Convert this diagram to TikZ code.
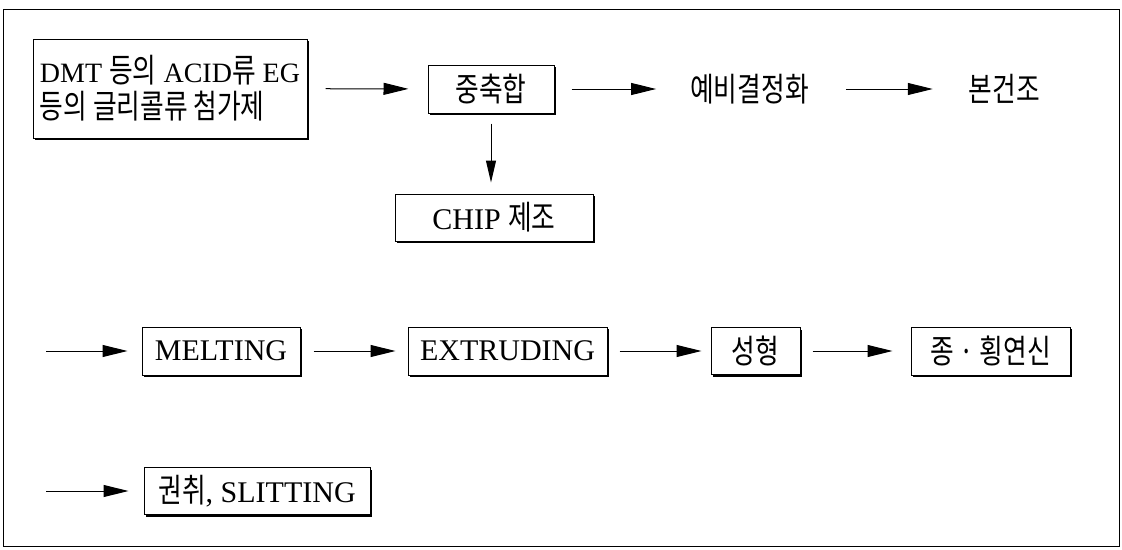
\documentclass[tikz,border=0pt]{standalone}
\usepackage{fontspec}
\setmainfont{Liberation Serif}
\newfontfamily\krfam[FakeStretch=0.78]{Noto Sans CJK KR}
\newcommand\kor[1]{{\fontsize{33}{36}\selectfont\krfam #1}}
\usetikzlibrary{arrows.meta,shadows}
\tikzset{
  procbox/.style={draw, line width=1pt, fill=white, inner sep=0pt,
    drop shadow={shadow xshift=2pt, shadow yshift=-2pt, fill=black, opacity=1}},
  plain/.style={inner sep=0pt},
  flow/.style={line width=1pt, -{Triangle[length=25pt,width=12pt]}},
  downflow/.style={line width=1pt, -{Triangle[length=22pt,width=10pt]}},
}
\begin{document}
\begin{tikzpicture}[x=1pt,y=-1pt,font=\fontsize{30}{36}\selectfont]
\useasboundingbox (0,0) rectangle (1122,549);
\draw[line width=1pt] (3,9) rectangle (1119,546);

% row 1
\node[procbox, minimum width=274pt, minimum height=99pt, align=left,
      font=\fontsize{28}{36}\selectfont] (b1) at (170,88.5)
  {DMT \kor{등의} ACID\kor{류} EG\\\kor{등의 글리콜류 첨가제}};
\node[procbox, minimum width=126pt, minimum height=48pt] (b2) at (491,89) {\kor{중축합}};
\node[plain] (t3) at (749.5,89) {\kor{예비결정화}};
\node[plain] (t4) at (1004.5,89) {\kor{본건조}};
\node[procbox, minimum width=198pt, minimum height=47pt] (b5) at (494,217.5) {CHIP \kor{제조}};

% row 2
\coordinate (c2) at (46,351);
\node[procbox, minimum width=158pt, minimum height=48pt] (b6) at (221,351) {MELTING};
\node[procbox, minimum width=199pt, minimum height=48pt] (b7) at (507.5,351) {EXTRUDING};
\node[procbox, minimum width=89pt, minimum height=47pt] (b8) at (755.5,351) {\kor{성형}};
\node[procbox, minimum width=159pt, minimum height=48pt] (b9) at (990.5,351) {\kor{종 · 횡연신}};

% row 3
\coordinate (c3) at (46,491);
\node[procbox, minimum width=226pt, minimum height=47pt] (b10) at (257,491) {\kor{권취}, SLITTING};

% connectors
\draw[flow, shorten <=18pt, shorten >=19pt] (b1) -- (b2);
\draw[flow, shorten <=17pt, shorten >=34pt] (b2) -- (t3);
\draw[flow, shorten <=37pt, shorten >=36pt] (t3) -- (t4);
\draw[downflow, shorten <=10pt, shorten >=11pt] (b2.south) -- (b2.south |- b5.north);
\draw[flow, shorten >=14pt] (c2) -- (b6);
\draw[flow, shorten <=13pt, shorten >=12pt] (b6) -- (b7);
\draw[flow, shorten <=12pt, shorten >=9pt] (b7) -- (b8);
\draw[flow, shorten <=12pt, shorten >=18pt] (b8) -- (b9);
\draw[flow, shorten >=15pt] (c3) -- (b10);
\end{tikzpicture}
\end{document}
